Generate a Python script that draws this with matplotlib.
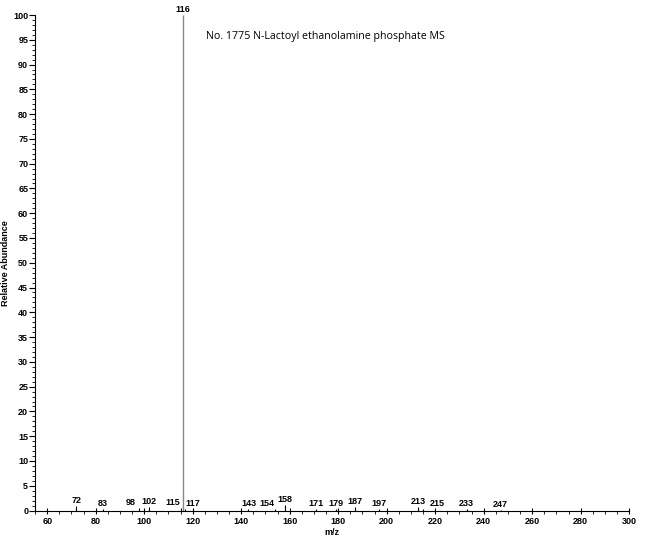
import numpy as np
import matplotlib.pyplot as plt
from matplotlib.ticker import MultipleLocator

# peak list (m/z, relative abundance)
mz = [72, 83, 98, 102, 115, 116, 117, 143, 154, 158, 171, 179, 187, 197, 213, 215, 233, 247]
abundance = [0.9, 0.3, 0.5, 0.8, 0.5, 100, 0.3, 0.3, 0.3, 1.1, 0.3, 0.3, 0.8, 0.3, 0.8, 0.4, 0.3, 0.1]
# horizontal nudges of the peak labels (points), as in the original print
label_dx = {98: -6, 115: -6, 117: 5, 154: -6, 215: 10}
title = "No. 1775 N-Lactoyl ethanolamine phosphate MS"

plt.rcParams['font.family'] = ['Liberation Sans', 'DejaVu Sans']

fig = plt.figure(figsize=(6.5, 5.46), dpi=100)
ax = fig.add_axes([0.054, 0.065, 0.914, 0.9075])

for m, a in zip(mz, abundance):
    big = a > 50
    ax.vlines(m, 0, a, color='#888888' if big else 'black', lw=1.0 if big else 0.8)
    ax.annotate(str(m), (m, a), xytext=(label_dx.get(m, 0), 0.8 if big else 0.5),
                textcoords='offset points', ha='center', va='bottom',
                fontsize=6.5, fontweight='bold', annotation_clip=False)

ax.set_xlim(55, 300)
ax.set_ylim(0, 100)
ax.xaxis.set_major_locator(MultipleLocator(20))
ax.xaxis.set_minor_locator(MultipleLocator(5))
ax.yaxis.set_major_locator(MultipleLocator(5))
ax.yaxis.set_minor_locator(MultipleLocator(1))
ax.tick_params(axis='both', which='major', labelsize=6.5, length=4, width=0.8)
ax.tick_params(axis='both', which='minor', length=2.5, width=0.6)
ax.tick_params(axis='x', direction='inout', pad=3)
ax.tick_params(axis='y', pad=1)
for lab in ax.get_xticklabels() + ax.get_yticklabels():
    lab.set_fontweight('bold')

ax.spines['top'].set_visible(False)
ax.spines['right'].set_visible(False)
ax.set_xlabel("m/z", fontsize=6.5, fontweight='bold', labelpad=1)
ax.set_ylabel("Relative Abundance", fontsize=6.5, fontweight='bold')
ax.yaxis.set_label_coords(-0.042, 0.5)

fig.text(325 / 650, 1 - 37 / 546, title, fontsize=7.7, family='Open Sans',
         ha='center', va='center')

fig.savefig("out.png", dpi=100)
